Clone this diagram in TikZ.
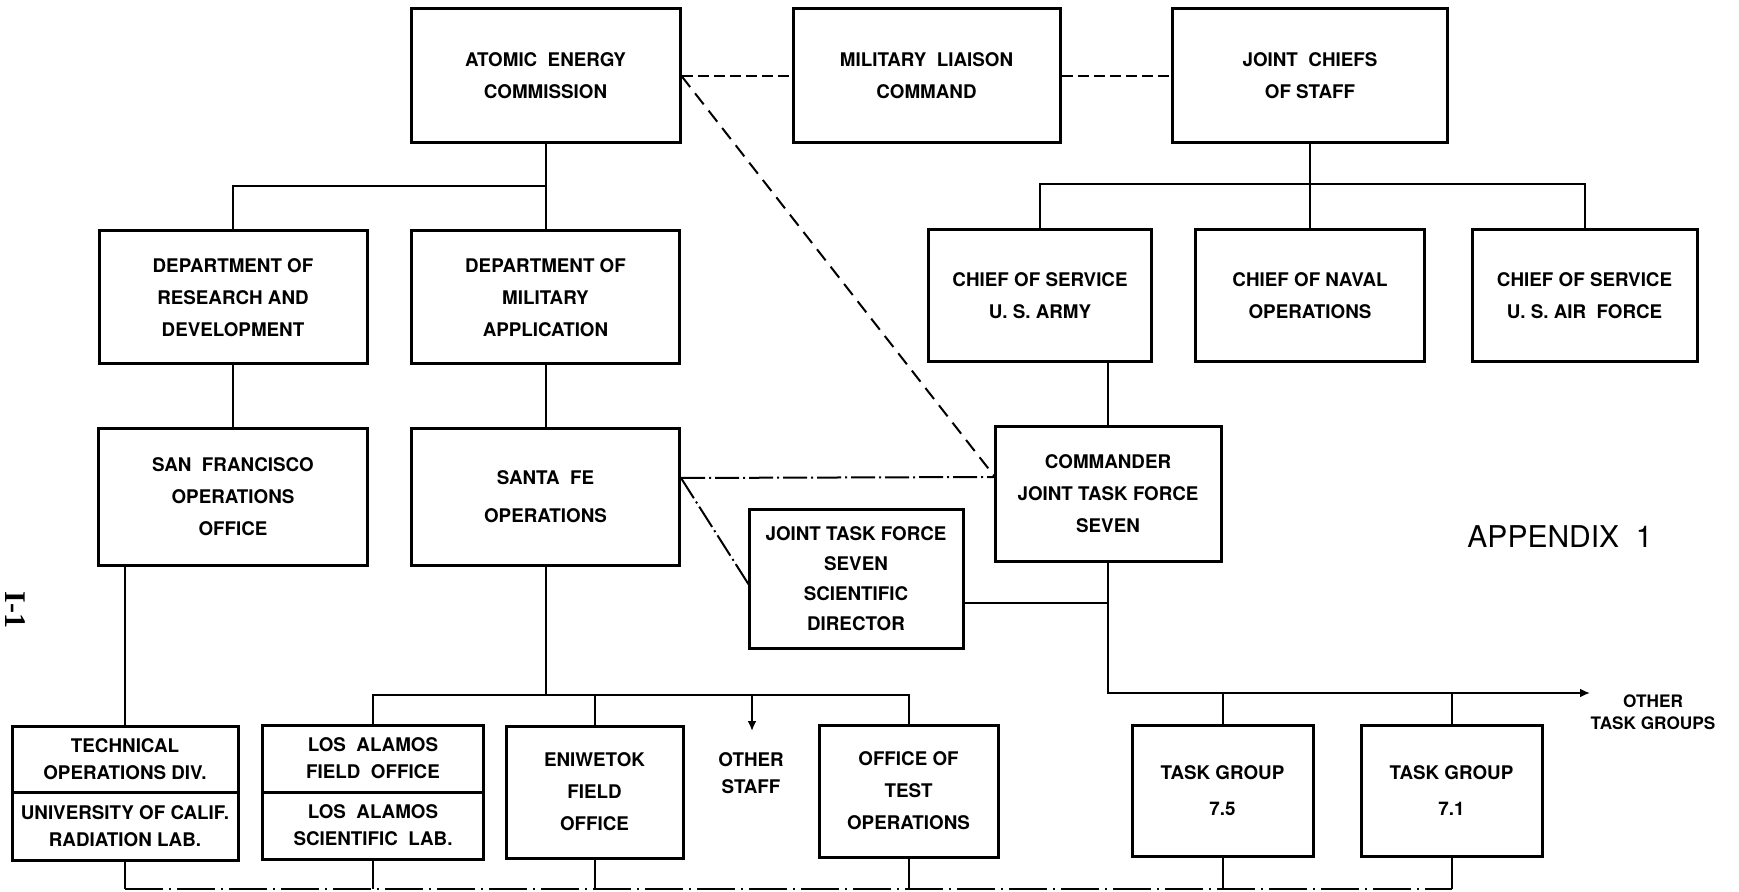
\documentclass[tikz,border=0pt]{standalone}
\usepackage{fontspec}
\setsansfont{TeX Gyre Heros}
\newfontfamily\pagefont{Liberation Serif}
\usetikzlibrary{arrows.meta}

\begin{document}
\begin{tikzpicture}[x=0.5pt,y=-0.5pt]
      \tikzstyle{every node}+=[inner sep=0pt, align=center, font=\sffamily\bfseries\fontsize{9.4}{16}\selectfont]
      \tikzstyle{box}=[draw=black, line width=1.5pt]
      \tikzstyle{half}=[box, font=\sffamily\bfseries\fontsize{9.4}{13.5}\selectfont]
      \tikzstyle{link}=[black, line width=1pt]
      \tikzstyle{liaison}=[link, dash pattern=on 5.5pt off 2.5pt]
      \tikzstyle{direct}=[link, dash pattern=on 7pt off 4pt]
      \tikzstyle{coord}=[link, dash pattern=on 12pt off 2pt on 1pt off 2pt]
      \tikzstyle{admin}=[link, dash pattern=on 19pt off 3pt on 1pt off 3pt]
      \tikzstyle{tip}=[-{Latex[length=5pt,width=4.5pt]}]
      \useasboundingbox (0,0) rectangle (1739,892);
      \node [box, minimum width=134.5pt, minimum height=67pt] (aec) at (545.5,76) {ATOMIC~~ENERGY\\COMMISSION};
      \node [box, minimum width=133.5pt, minimum height=67pt] (mlc) at (926.5,76) {MILITARY~~LIAISON\\COMMAND};
      \node [box, minimum width=137.5pt, minimum height=67pt] (jcs) at (1310,76) {JOINT~~CHIEFS\\OF STAFF};
      \node [box, minimum width=134pt, minimum height=66.5pt] (drd) at (233,297.5) {DEPARTMENT OF\\RESEARCH AND\\DEVELOPMENT};
      \node [box, minimum width=134pt, minimum height=66.5pt] (dma) at (545.5,297.5) {DEPARTMENT OF\\MILITARY\\APPLICATION};
      \node [box, minimum width=111.5pt, minimum height=66pt] (army) at (1040,296) {CHIEF OF SERVICE\\U. S. ARMY};
      \node [box, minimum width=114.5pt, minimum height=66pt] (naval) at (1310,296) {CHIEF OF NAVAL\\OPERATIONS};
      \node [box, minimum width=112.5pt, minimum height=66pt] (af) at (1584.5,296) {CHIEF OF SERVICE\\U. S. AIR~~FORCE};
      \node [box, minimum width=134.5pt, minimum height=68pt] (sfo) at (233,497) {SAN~~FRANCISCO\\OPERATIONS\\OFFICE};
      \node [box, minimum width=134pt, minimum height=68pt] (sfe) at (545.5,497) {SANTA~~FE\\[3pt]OPERATIONS};
      \node [box, minimum width=113pt, minimum height=67pt] (cjtf) at (1108,494) {COMMANDER\\JOINT TASK FORCE\\SEVEN};
      \node [box, minimum width=107pt, minimum height=69pt, font=\sffamily\bfseries\fontsize{9.4}{15}\selectfont] (jtfsd) at (856,579) {JOINT TASK FORCE\\SEVEN\\SCIENTIFIC\\DIRECTOR};
      \node [half, minimum width=113pt, minimum height=33pt] (tod) at (125,759) {TECHNICAL\\OPERATIONS DIV.};
      \node [half, minimum width=113pt, minimum height=34pt] (ucrl) at (125,826) {UNIVERSITY OF CALIF.\\RADIATION LAB.};
      \node [half, minimum width=110.5pt, minimum height=33.5pt] (lafo) at (373,758.5) {LOS~~ALAMOS\\FIELD~~OFFICE};
      \node [half, minimum width=110.5pt, minimum height=33.5pt] (lasl) at (373,825.5) {LOS~~ALAMOS\\SCIENTIFIC~~LAB.};
      \node [box, minimum width=88.5pt, minimum height=66pt] (eni) at (594.5,792) {ENIWETOK\\FIELD\\OFFICE};
      \node [box, minimum width=89.5pt, minimum height=66pt] (oto) at (908.5,791) {OFFICE OF\\TEST\\OPERATIONS};
      \node [box, minimum width=90.5pt, minimum height=65.5pt] (tg75) at (1222.5,790.5) {TASK GROUP\\[2pt]7.5};
      \node [box, minimum width=90.5pt, minimum height=65.5pt] (tg71) at (1451.5,790.5) {TASK GROUP\\[2pt]7.1};
      \node [font=\sffamily\bfseries\fontsize{9.4}{13.5}\selectfont] (ostaff) at (751,773) {OTHER\\STAFF};
      \node [font=\sffamily\bfseries\fontsize{8.6}{11}\selectfont] (otg) at (1653,712) {OTHER\\TASK GROUPS};
      \node [font=\sffamily\fontsize{15}{18}\selectfont] (app) at (1560,537) {APPENDIX\ \ 1};
      \node [font=\pagefont\bfseries\fontsize{15}{18}\selectfont, anchor=base, rotate=-90] (pageno) at (5,610) {I-1};
      \coordinate (aecbar) at (545.5,186);
      \coordinate (jcsbar) at (1310,184);
      \coordinate (sfebar) at (545.5,695);
      \coordinate (tgtip) at (1590,693);
      \coordinate (stafftip) at (752,731);
      \coordinate (sfeout) at (681,478);
      \coordinate (cjtfin) at (995,477);
      \coordinate (sdin) at (749,585);
      \coordinate (sdout) at (963,603);
      \coordinate (botbar) at (125,889);
      \draw [link] (aec.south) -- (dma.north);
      \draw [link] (aecbar) -| (drd.north);
      \draw [link] (drd.south) -- (sfo.north);
      \draw [link] (dma.south) -- (sfe.north);
      \draw [link] (jcs.south) -- (naval.north);
      \draw [link] (army.north) |- (jcsbar) -| (af.north);
      \draw [link] (cjtf.north |- army.south) -- (cjtf.north);
      \draw [link] (tod.north |- sfo.south) -- (tod.north);
      \draw [link] (sfe.south) -- (sfebar);
      \draw [link] (lafo.north) |- (sfebar) -| (oto.north);
      \draw [link] (eni.north) -- (eni.north |- sfebar);
      \draw [link, tip] (stafftip |- sfebar) -- (stafftip);
      \draw [link, tip] (cjtf.south) |- (tgtip);
      \draw [link] (tg75.north) -- (tg75.north |- tgtip);
      \draw [link] (tg71.north) -- (tg71.north |- tgtip);
      \draw [link] (sdout) -- (sdout -| cjtf.south);
      \draw [liaison] (aec.east) -- (mlc.west);
      \draw [liaison] (mlc.east) -- (jcs.west);
      \draw [direct] (aec.east) -- (cjtfin);
      \draw [coord] (sfeout) -- (cjtfin);
      \draw [coord] (sfeout) -- (sdin);
      \foreach \part in {ucrl,lasl,eni,oto,tg75,tg71}
        \draw [link] (\part.south) -- (\part.south |- botbar);
      \draw [admin] (ucrl.south |- botbar) -- (tg71.south |- botbar);
      \end{tikzpicture}
\end{document}
